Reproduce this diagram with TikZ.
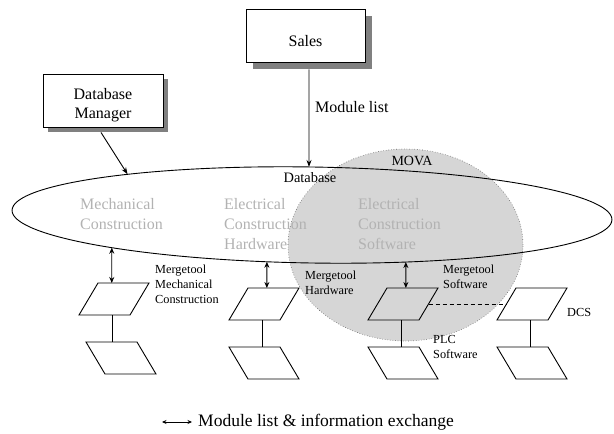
\documentclass[tikz,border=0pt]{standalone}
\usepackage{fontspec}
\setmainfont{Liberation Serif}
\usetikzlibrary{arrows.meta,shadows,intersections,calc}
\definecolor{lblgray}{RGB}{178,178,178}
\definecolor{movafill}{RGB}{214,214,214}
\definecolor{movaline}{RGB}{100,100,100}
\definecolor{shadowgray}{RGB}{128,128,128}
\tikzset{
  paraup/.pic={
    \draw[line width=.9pt] (19,0) -- (70,0) -- (51,32) -- (0,32) -- cycle;
    \coordinate (-tl) at (19,0); \coordinate (-tr) at (70,0);
    \coordinate (-b) at (33,32);
    \coordinate (-w) at (9.5,16); \coordinate (-e) at (60.5,16);
  },
  paradown/.pic={
    \draw[line width=.9pt] (0,0) -- (51,0) -- (70,32) -- (19,32) -- cycle;
    \coordinate (-tl) at (0,0); \coordinate (-tr) at (51,0);
  }
}
\begin{document}
\begin{tikzpicture}[x=1pt,y=-1pt,
  box/.style={draw, fill=white, line width=.9pt, align=center, inner sep=0pt,
    font=\fontsize{16}{19}\selectfont},
  arr/.style={line width=.9pt,-{Stealth[length=7pt,width=5pt]}},
  dbl/.style={line width=.9pt,{Stealth[length=6pt,width=5pt]}-{Stealth[length=6pt,width=5pt]}},
  legarr/.style={line width=.7pt,{Stealth[length=4.5pt,width=4pt]}-{Stealth[length=4.5pt,width=4pt]}},
  big/.style={font=\fontsize{16}{20}\selectfont, align=left, inner sep=0pt, text=lblgray, anchor=west},
  small/.style={font=\fontsize{12.3}{15}\selectfont, align=left, inner sep=0pt, anchor=west}
]
\useasboundingbox (0,0) rectangle (614,434);

% MOVA region
\path[fill=movafill, draw=movaline, line width=.6pt, dotted] (405.5,245) ellipse [x radius=117.5pt, y radius=96pt];

% Database ellipse
\draw[name path=dbp, line width=.9pt, rotate around={-0.9:(312,215)}] (312,215) ellipse [x radius=300pt, y radius=48pt];

% labels inside
\node[inner sep=0pt, font=\fontsize{14}{16}\selectfont] (mova) at (412,161) {MOVA};
\node[inner sep=0pt, font=\fontsize{14.4}{16}\selectfont] (dblabel) at (310,178) {Database};
\node[big] (mech) at (80,214) {Mechanical\\Construction};
\node[big] (ehw) at (224,224) {Electrical\\Construction\\Hardware};
\node[big] (esw) at (358,224) {Electrical\\Construction\\Software};

% boxes
\node[box, minimum width=119pt, minimum height=53pt, text height=22pt, text depth=0pt,
  general shadow={fill=shadowgray, shadow xshift=7pt, shadow yshift=-7pt}] (sales) at (305.5,35.5) {Sales};
\node[box, minimum width=120pt, minimum height=53pt, text height=36pt, text depth=0pt,
  general shadow={fill=shadowgray, shadow xshift=5pt, shadow yshift=-5pt}] (dbm) at (103,100.5) {Database\\Manager};

% Sales arrow
\coordinate (s0) at ([xshift=3.5pt,yshift=-7pt]sales.south);
\path[name path=vs] (s0) -- ++(0,120);
\path[name intersections={of=dbp and vs, by=es}];
\draw[arr] (s0) -- (es);
\node[inner sep=0pt, anchor=west, font=\fontsize{16}{19}\selectfont] (mlist) at (315,107) {Module list};

% Database manager arrow
\coordinate (m0) at ([xshift=-2pt,yshift=-5pt]dbm.south);
\path[name path=vm] (m0) -- (135,186);
\path[name intersections={of=dbp and vm, by=em}];
\draw[arr] (m0) -- (em);

% parallelograms
\pic (m1) at (79,283) {paraup};
\pic (m2) at (86,342) {paradown};
\pic (h1) at (229,288) {paraup};
\pic (h2) at (229,347) {paradown};
\pic (s1) at (368,288) {paraup};
\pic (s2) at (368,347) {paradown};
\pic (d1) at (497,288) {paraup};
\pic (d2) at (497,347) {paradown};

\draw[line width=.9pt] (m1-b) -- (m1-b |- m2-tl);
\draw[line width=.9pt] (h1-b) -- (h1-b |- h2-tl);
\draw[line width=.9pt] (s1-b) -- (s1-b |- s2-tl);
\draw[line width=.9pt] (d1-b) -- (d1-b |- d2-tl);

% double arrows
\path (m1-tl) -- (m1-tr) coordinate[pos=.27] (k1);
\path[name path=v1] (k1) -- ++(0,-60);
\path[name intersections={of=dbp and v1, by=e1}];
\draw[dbl] (e1) -- (k1);
\path (h1-tl) -- (h1-tr) coordinate[pos=.37] (k2);
\path[name path=v2] (k2) -- ++(0,-60);
\path[name intersections={of=dbp and v2, by=e2}];
\draw[dbl] (e2) -- (k2);
\path (s1-tl) -- (s1-tr) coordinate[pos=.37] (k3);
\path[name path=v3] (k3) -- ++(0,-60);
\path[name intersections={of=dbp and v3, by=e3}];
\draw[dbl] (e3) -- (k3);

% dashed link
\draw[line width=.9pt, dash pattern=on 4pt off 3pt] (s1-e) -- (d1-w);

% small labels
\node[small] (mtm) at (155,284) {Mergetool\\Mechanical\\Construction};
\node[small] (mth) at (305,282.5) {Mergetool\\Hardware};
\node[small] (mts) at (443,276.5) {Mergetool\\Software};
\node[small] (plc) at (433,346.5) {PLC\\Software};
\node[small] (dcs) at (567,312) {DCS};

% legend
\node[inner sep=0pt, anchor=west, font=\fontsize{17.5}{20}\selectfont] (legend) at (198,422) {Module list \& information exchange};
\coordinate (lg0) at (162,422);
\draw[legarr] (lg0) -- ([xshift=-6pt]legend.west);
\end{tikzpicture}
\end{document}
